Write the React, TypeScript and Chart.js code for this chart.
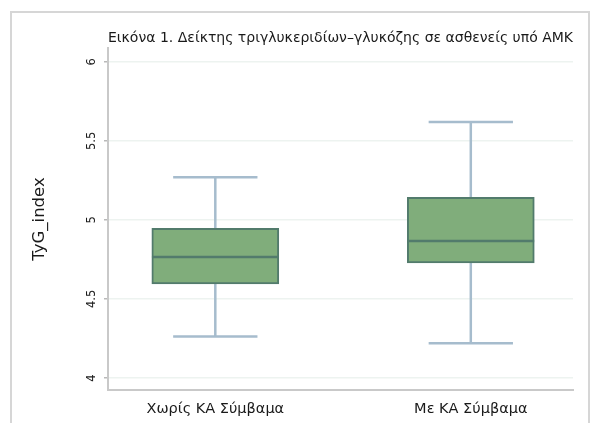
import React, { useEffect, useRef } from "react";
import { Chart, registerables } from "chart.js";

Chart.register(...registerables);

const categories = ["Χωρίς ΚΑ Σύμβαμα", "Με ΚΑ Σύμβαμα"];
const positions = [1, 2];
const mins = [4.262, 4.219];
const q1s = [4.595, 4.728];
const medians = [4.765, 4.866];
const q3s = [4.947, 5.142];
const maxs = [5.269, 5.619];
const yTicks = [4, 4.5, 5, 5.5, 6];

const titleText = "Εικόνα 1. Δείκτης τριγλυκεριδίων–γλυκόζης σε ασθενείς υπό ΑΜΚ";
const yTitle = "TyG_index";

const FONT = "'DejaVu Sans', 'Liberation Sans', sans-serif";
const BOX_FILL = "#80ad7b";
const BOX_EDGE = "#527b6c";
const WHISKER = "#a6bccd";

const boxPlugin = {
  id: "boxExtras",
  beforeDraw(chart: any) {
    const ctx = chart.ctx;
    ctx.save();
    ctx.strokeStyle = "#d6d6d6";
    ctx.lineWidth = 2;
    ctx.strokeRect(11, 12, 578, 430);
    ctx.restore();
  },
  beforeDatasetsDraw(chart: any) {
    const ctx = chart.ctx;
    const xs = chart.scales.x;
    const ys = chart.scales.y;
    ctx.save();
    ctx.strokeStyle = WHISKER;
    ctx.lineWidth = 2.5;
    positions.forEach((p, i) => {
      const cx = xs.getPixelForValue(p);
      const capHalf = xs.getPixelForValue(p + 0.165) - cx;
      const yMax = ys.getPixelForValue(maxs[i]);
      const yMin = ys.getPixelForValue(mins[i]);
      ctx.beginPath();
      ctx.moveTo(cx, ys.getPixelForValue(q3s[i]));
      ctx.lineTo(cx, yMax);
      ctx.moveTo(cx, ys.getPixelForValue(q1s[i]));
      ctx.lineTo(cx, yMin);
      ctx.moveTo(cx - capHalf, yMax);
      ctx.lineTo(cx + capHalf, yMax);
      ctx.moveTo(cx - capHalf, yMin);
      ctx.lineTo(cx + capHalf, yMin);
      ctx.stroke();
    });
    ctx.restore();
  },
  afterDatasetsDraw(chart: any) {
    const ctx = chart.ctx;
    const xs = chart.scales.x;
    const ys = chart.scales.y;
    ctx.save();
    ctx.strokeStyle = BOX_EDGE;
    ctx.lineWidth = 2.5;
    positions.forEach((p, i) => {
      const cx = xs.getPixelForValue(p);
      const half = xs.getPixelForValue(p + 0.248) - cx;
      const ym = ys.getPixelForValue(medians[i]);
      ctx.beginPath();
      ctx.moveTo(cx - half, ym);
      ctx.lineTo(cx + half, ym);
      ctx.stroke();
    });
    ctx.restore();
  },
};

export default function App() {
  const ref = useRef<HTMLCanvasElement>(null);
  useEffect(() => {
    document.body.style.margin = "0";
    const chart = new Chart(ref.current as HTMLCanvasElement, {
      type: "bar",
      data: {
        datasets: [
          {
            data: positions.map((p, i) => ({ x: p, y: [q1s[i], q3s[i]] })) as any,
            backgroundColor: BOX_FILL,
            borderColor: BOX_EDGE,
            borderWidth: 2,
            borderSkipped: false,
            barThickness: 127,
          },
        ],
      },
      options: {
        animation: false,
        responsive: false,
        layout: { padding: { left: 0, right: 21, top: 0, bottom: 0 } },
        plugins: {
          legend: { display: false },
          tooltip: { enabled: false },
          title: {
            display: true,
            text: titleText,
            align: "start",
            fullSize: false,
            color: "#1a1a1a",
            font: { family: FONT, size: 14.2, weight: "normal" },
            padding: { top: 30, bottom: 1 },
          },
        },
        scales: {
          x: {
            type: "linear",
            offset: false,
            min: 0.58,
            max: 2.4,
            afterBuildTicks: (s: any) => {
              s.ticks = positions.map((v) => ({ value: v }));
            },
            afterFit: (s: any) => {
              s.height = 33;
            },
            ticks: {
              callback: (v: any) => categories[positions.indexOf(Number(v))] ?? "",
              font: { family: FONT, size: 14.5 },
              color: "#1a1a1a",
              padding: 11,
              maxRotation: 0,
              minRotation: 0,
            },
            grid: { display: false, drawTicks: false },
            border: { color: "#c9c9c9", width: 2 },
          },
          y: {
            type: "linear",
            min: 3.924,
            max: 6.087,
            afterBuildTicks: (s: any) => {
              s.ticks = yTicks.map((v) => ({ value: v }));
            },
            afterFit: (s: any) => {
              s.width = 108;
            },
            ticks: {
              font: { family: FONT, size: 11.5 },
              color: "#1a1a1a",
              minRotation: 90,
              maxRotation: 90,
              crossAlign: "center",
              padding: 3,
              callback: (v: any) => String(v),
            },
            grid: {
              color: "#edf3f0",
              lineWidth: 1.5,
              tickLength: 4,
              tickColor: "#b9b9b9",
            },
            border: { color: "#c9c9c9", width: 2 },
            title: {
              display: true,
              text: yTitle,
              font: { family: FONT, size: 16.5 },
              color: "#1a1a1a",
              padding: { top: 30, bottom: 0 },
            },
          },
        },
      },
      plugins: [boxPlugin],
    });
    return () => chart.destroy();
  }, []);
  return <canvas ref={ref} width={594} height={423} style={{ display: "block" }} />;
}
